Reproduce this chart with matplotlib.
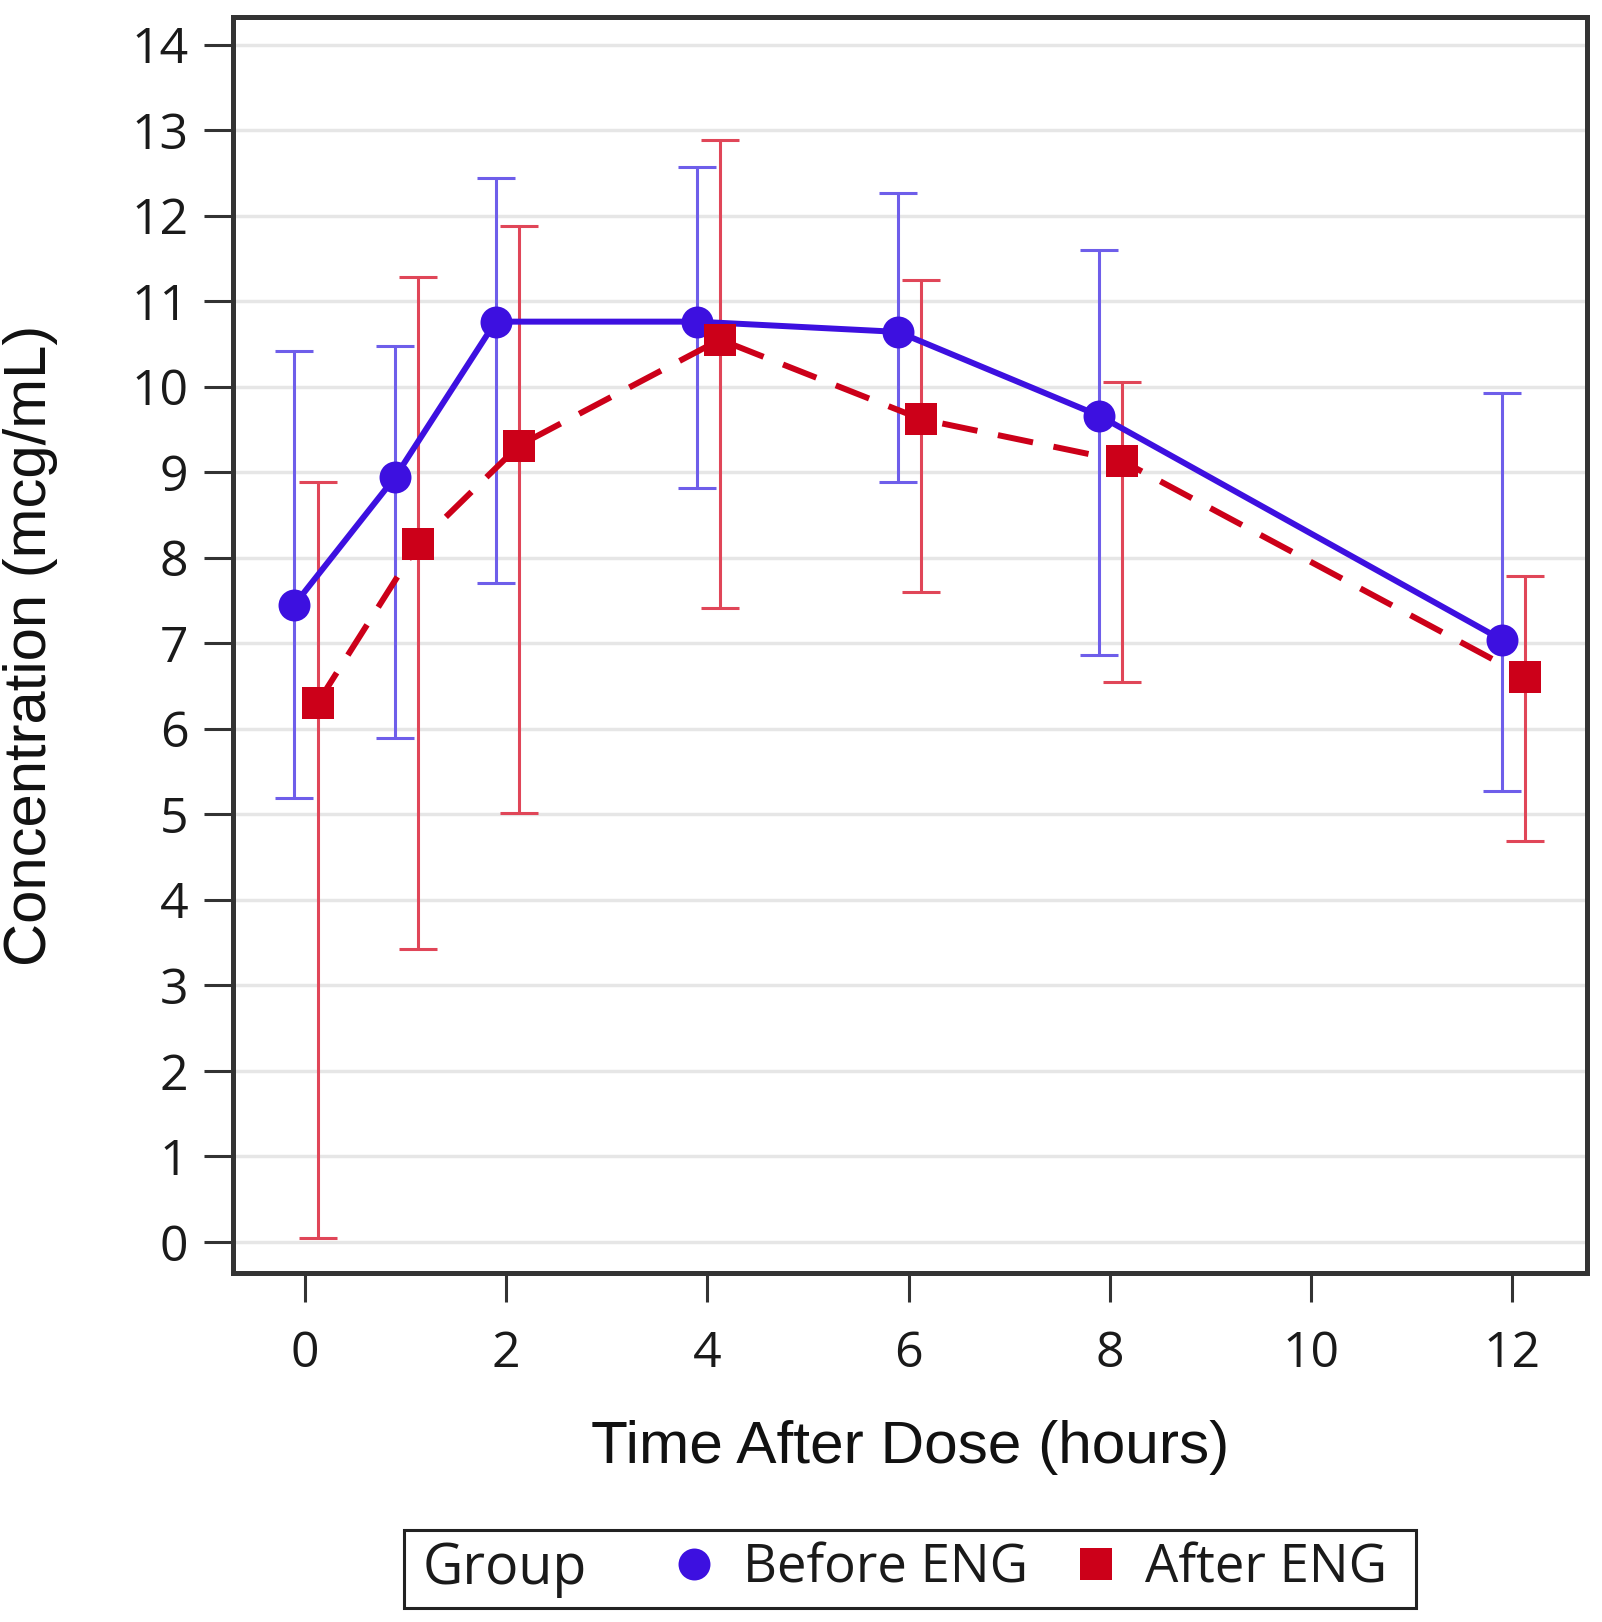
import matplotlib
matplotlib.use('Agg')
import matplotlib.pyplot as plt
from matplotlib.lines import Line2D
from matplotlib.offsetbox import HPacker, DrawingArea
import numpy as np

# ---- data ----
time_h = [0, 1, 2, 4, 6, 8, 12]
before_mean = [7.45, 8.94, 10.76, 10.76, 10.64, 9.66, 7.04]
before_upper = [10.42, 10.47, 12.44, 12.57, 12.27, 11.60, 9.92]
before_lower = [5.19, 5.89, 7.70, 8.82, 8.88, 6.86, 5.27]
after_mean = [6.30, 8.16, 9.31, 10.55, 9.62, 9.13, 6.61]
after_upper = [8.88, 11.28, 11.88, 12.88, 11.25, 10.05, 7.78]
after_lower = [0.05, 3.42, 5.02, 7.41, 7.60, 6.55, 4.69]
group_labels = ['Before ENG', 'After ENG']
legend_title = 'Group'
x_ticks = [0, 2, 4, 6, 8, 10, 12]
y_ticks = list(range(0, 15))
x_label = 'Time After Dose (hours)'
y_label = 'Concentration (mcg/mL)'

# ---- style ----
blue = '#3D10E0'
blue_err = '#6E5EEA'
red = '#CC0019'
red_err = '#E04658'
spine_c = '#333333'

plt.rcParams['font.family'] = ['Open Sans', 'DejaVu Sans']

fig = plt.figure(figsize=(16.02, 16.22), dpi=100)
fig.patch.set_facecolor('white')
ax = fig.add_axes([0.1454, 0.2152, 0.8452, 0.7743])

t = np.array(time_h, dtype=float)
xb = t - 0.105
xa = t + 0.125
bm = np.array(before_mean); am = np.array(after_mean)
b_err = [bm - np.array(before_lower), np.array(before_upper) - bm]
a_err = [am - np.array(after_lower), np.array(after_upper) - am]

ax.errorbar(xb, bm, yerr=b_err, fmt='none', ecolor=blue_err, elinewidth=2.2,
            capsize=14, capthick=2.2, zorder=2)
ax.errorbar(xa, am, yerr=a_err, fmt='none', ecolor=red_err, elinewidth=2.2,
            capsize=14, capthick=2.2, zorder=2)
ax.plot(xb, bm, color=blue, lw=4.3, marker='o', ms=23, mew=0, zorder=3)
ax.plot(xa, am, color=red, lw=4.3, dashes=(6, 3.5), marker='s', ms=23, mew=0, zorder=4)

ax.set_xlim(-0.716, 12.741)
ax.set_ylim(-0.364, 14.322)
ax.set_xticks(x_ticks)
ax.set_yticks(y_ticks)
ax.yaxis.grid(True, color='#E6E6E6', lw=2.5)
ax.xaxis.grid(False)
ax.set_axisbelow(True)

for s in ax.spines.values():
    s.set_linewidth(3.6)
    s.set_color(spine_c)

ax.tick_params(axis='both', direction='out', length=21, width=2.2, color=spine_c,
               labelsize=36, labelcolor='#1a1a1a')
ax.tick_params(axis='x', pad=20)
ax.tick_params(axis='y', pad=11)

ax.set_xlabel(x_label, fontsize=43.5, family='Liberation Sans', color='#111111')
ax.xaxis.set_label_coords(0.5, (1273 - 1448) / 1256)
ax.xaxis.label.set_va('center')
ax.set_ylabel(y_label, fontsize=43, family='Liberation Sans', color='#111111')
ax.yaxis.set_label_coords((31 - 233) / 1354, 0.5)
ax.yaxis.label.set_va('center')

# ---- legend ----
h1 = Line2D([], [], ls='none', marker='o', ms=23, color=blue, mew=0)
h2 = Line2D([], [], ls='none', marker='s', ms=23, color=red, mew=0)
leg = fig.legend(handles=[h1, h2], labels=group_labels, title=legend_title, ncol=2,
                 loc='center', bbox_to_anchor=(910 / 1602, 1 - 1569 / 1622),
                 fontsize=38, title_fontsize=40, frameon=True, fancybox=False,
                 edgecolor='#222222', framealpha=1, borderpad=0.2,
                 handlelength=1.0, handletextpad=0.43, columnspacing=0.79,
                 borderaxespad=0)
leg.get_frame().set_linewidth(2.2)
for txt in leg.get_texts():
    txt.set_color('#1a1a1a')
leg.get_title().set_color('#1a1a1a')
try:
    old = leg._legend_box
    new = HPacker(pad=old.pad, sep=0, align='center',
                  children=[DrawingArea(6, 1), leg._legend_title_box, DrawingArea(58, 1),
                            leg._legend_handle_box, DrawingArea(13, 1)])
    new.set_figure(fig)
    new.set_offset(leg._findoffset)
    leg._legend_box = new
except Exception:
    pass

fig.savefig('out.png', dpi=100, facecolor='white')
